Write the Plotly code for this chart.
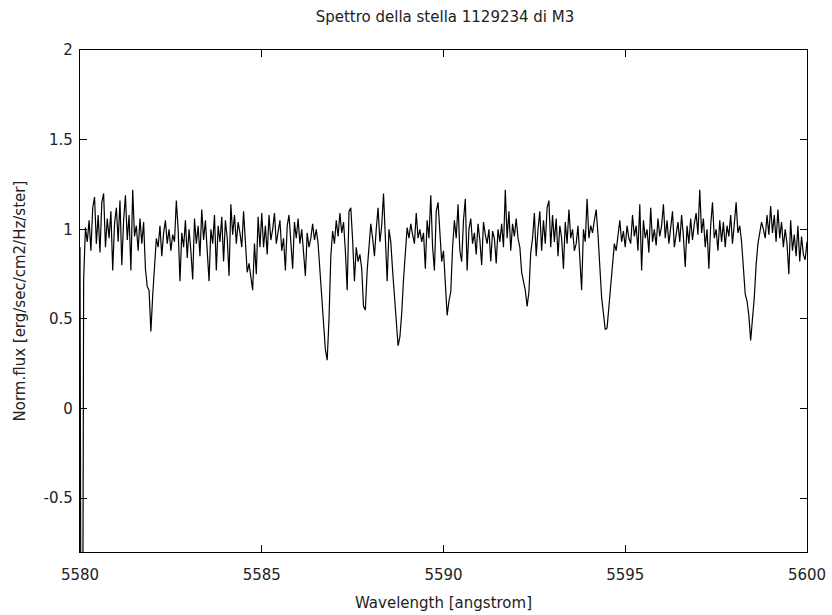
import numpy as np
import plotly.graph_objects as go

# Wavelength grid start/step (angstrom) and normalized flux values
wl_start = 5580.0
wl_step = 0.05

flux_5580 = [0.90, -3.5, 0.72, 1.01, 0.93, 1.05, 0.88, 1.12, 1.18, 0.92, 1.08, 0.87, 1.15, 1.20, 0.90, 1.06, 0.95, 1.10, 0.77, 1.03]
flux_5581 = [1.12, 0.93, 1.16, 0.80, 1.05, 1.19, 0.94, 1.08, 0.77, 1.22, 0.96, 1.02, 0.88, 1.06, 0.92, 1.04, 0.78, 0.68, 0.66, 0.43]
flux_5582 = [0.63, 0.80, 0.95, 0.90, 1.02, 0.85, 0.98, 1.05, 0.92, 1.00, 0.88, 0.97, 0.93, 1.16, 1.00, 0.71, 0.98, 0.90, 1.05, 0.84]
flux_5583 = [1.00, 0.88, 0.72, 1.06, 0.92, 1.02, 0.85, 1.11, 0.94, 1.05, 0.88, 0.71, 1.00, 0.92, 1.08, 0.77, 1.02, 0.93, 1.07, 0.82]
flux_5584 = [1.05, 0.95, 0.74, 1.14, 0.97, 1.08, 0.92, 1.04, 0.98, 0.90, 1.10, 0.95, 0.76, 0.81, 0.72, 0.66, 0.92, 0.75, 1.07, 0.90]
flux_5585 = [1.09, 0.90, 1.02, 0.86, 1.08, 0.94, 1.00, 1.09, 0.92, 0.98, 1.05, 0.88, 0.95, 0.77, 1.02, 1.08, 0.90, 0.78, 1.04, 0.95]
flux_5586 = [1.06, 0.92, 1.00, 0.88, 0.74, 0.98, 0.90, 0.95, 1.03, 0.94, 1.00, 0.92, 0.77, 0.64, 0.44, 0.33, 0.27, 0.50, 0.85, 0.99]
flux_5587 = [0.92, 1.05, 0.96, 1.09, 0.98, 1.04, 0.88, 0.66, 1.10, 1.12, 0.94, 0.71, 0.90, 0.82, 0.86, 0.78, 0.57, 0.55, 0.77, 0.90]
flux_5588 = [1.03, 0.95, 0.85, 1.00, 1.12, 0.93, 1.02, 1.20, 0.90, 0.71, 1.00, 0.93, 0.77, 0.62, 0.45, 0.35, 0.40, 0.53, 0.72, 0.86]
flux_5589 = [1.01, 0.95, 1.03, 0.97, 0.92, 1.09, 0.95, 1.00, 0.93, 0.98, 0.78, 1.05, 0.95, 1.19, 0.90, 0.77, 1.10, 1.15, 0.98, 0.82]
flux_5590 = [0.88, 0.72, 0.52, 0.60, 0.65, 0.90, 1.05, 0.95, 1.14, 0.88, 0.82, 1.05, 1.17, 0.77, 1.00, 1.06, 0.92, 0.98, 0.86, 1.03]
flux_5591 = [0.94, 0.80, 1.04, 0.97, 0.92, 1.00, 0.82, 0.99, 0.95, 0.81, 1.00, 0.93, 1.03, 0.90, 1.22, 0.95, 1.10, 0.88, 1.03, 0.96]
flux_5592 = [1.06, 0.95, 0.90, 0.76, 0.71, 0.66, 0.57, 0.65, 0.87, 0.95, 1.09, 0.85, 1.00, 1.10, 0.88, 1.05, 0.92, 1.12, 1.16, 0.90]
flux_5593 = [1.08, 0.93, 1.06, 0.85, 1.02, 0.95, 0.78, 1.04, 0.92, 1.11, 0.95, 1.00, 0.88, 0.92, 1.02, 0.86, 0.66, 1.00, 0.93, 1.17]
flux_5594 = [0.95, 1.02, 0.98, 1.05, 1.11, 0.97, 0.78, 0.62, 0.53, 0.44, 0.45, 0.58, 0.68, 0.80, 0.92, 0.88, 0.98, 1.05, 0.93, 0.99]
flux_5595 = [0.90, 1.02, 0.95, 0.92, 1.08, 0.96, 1.02, 0.88, 1.14, 0.77, 1.05, 0.95, 1.00, 0.87, 1.12, 0.93, 1.00, 0.91, 1.06, 0.96]
flux_5596 = [1.02, 1.14, 0.95, 1.05, 0.92, 1.00, 1.10, 0.90, 0.98, 1.04, 0.93, 1.08, 0.96, 0.79, 1.02, 0.92, 1.06, 0.94, 1.03, 1.09]
flux_5597 = [0.97, 1.22, 0.98, 1.06, 0.90, 1.00, 0.78, 1.02, 1.15, 0.95, 1.00, 0.88, 1.05, 0.93, 1.04, 0.90, 1.02, 0.96, 1.08, 0.92]
flux_5598 = [1.03, 1.15, 0.98, 1.02, 0.93, 0.78, 0.64, 0.60, 0.52, 0.38, 0.48, 0.62, 0.80, 0.92, 0.98, 1.04, 1.00, 0.95, 1.08, 0.97]
flux_5599 = [1.13, 0.98, 1.08, 0.93, 1.11, 0.95, 1.04, 0.90, 1.00, 0.92, 0.75, 1.05, 0.88, 0.97, 0.85, 1.02, 0.82, 0.96, 0.86, 0.83]
flux_5600 = [0.93]

flux = (flux_5580 + flux_5581 + flux_5582 + flux_5583 + flux_5584 + flux_5585 + flux_5586 +
        flux_5587 + flux_5588 + flux_5589 + flux_5590 + flux_5591 + flux_5592 + flux_5593 +
        flux_5594 + flux_5595 + flux_5596 + flux_5597 + flux_5598 + flux_5599 + flux_5600)
wavelength = [round(wl_start + i * wl_step, 3) for i in range(len(flux))]

x_ticks = [5580, 5585, 5590, 5595, 5600]
y_ticks = [-0.5, 0, 0.5, 1, 1.5, 2]
y_tick_labels = ["-0.5", "0", "0.5", "1", "1.5", "2"]

FONT = "DejaVu Sans"
FS = 15
TXT = "#222"

fig = go.Figure()
fig.add_trace(go.Scatter(x=wavelength, y=flux, mode="lines",
                         line=dict(color="black", width=1.2), showlegend=False))

axis_common = dict(showline=True, linecolor="black", linewidth=1.2, mirror="ticks",
                   ticks="inside", ticklen=7, tickwidth=1, tickcolor="black",
                   showgrid=False, zeroline=False, automargin=False,
                   tickfont=dict(family=FONT, size=FS, color=TXT))

fig.update_layout(
    width=832, height=615,
    margin=dict(l=80, r=25, t=50, b=63, autoexpand=False),
    paper_bgcolor="white", plot_bgcolor="white",
    title=dict(text="Spettro della stella 1129234 di M3", x=445/832, xanchor="center",
               y=1 - 17/615, yanchor="middle", yref="container", automargin=False,
               font=dict(family=FONT, size=FS, color=TXT)),
    xaxis=dict(range=[5580, 5600], tickvals=x_ticks, ticktext=[str(v) for v in x_ticks],
               ticklabelstandoff=9, **axis_common),
    yaxis=dict(range=[-0.8, 2], tickvals=y_ticks, ticktext=y_tick_labels,
               ticklabelstandoff=3, **axis_common),
    annotations=[
        dict(text="Wavelength [angstrom]", x=0.5, xref="paper",
             y=-(603 - 552) / (552 - 50), yref="paper", yanchor="middle",
             showarrow=False, font=dict(family=FONT, size=FS, color=TXT)),
        dict(text="Norm.flux [erg/sec/cm2/Hz/ster]", textangle=-90,
             x=(19.5 - 80) / (807 - 80), xref="paper", xanchor="center",
             y=0.5, yref="paper", yanchor="middle", showarrow=False,
             font=dict(family=FONT, size=FS, color=TXT)),
    ],
)

fig.write_html("out.html")
